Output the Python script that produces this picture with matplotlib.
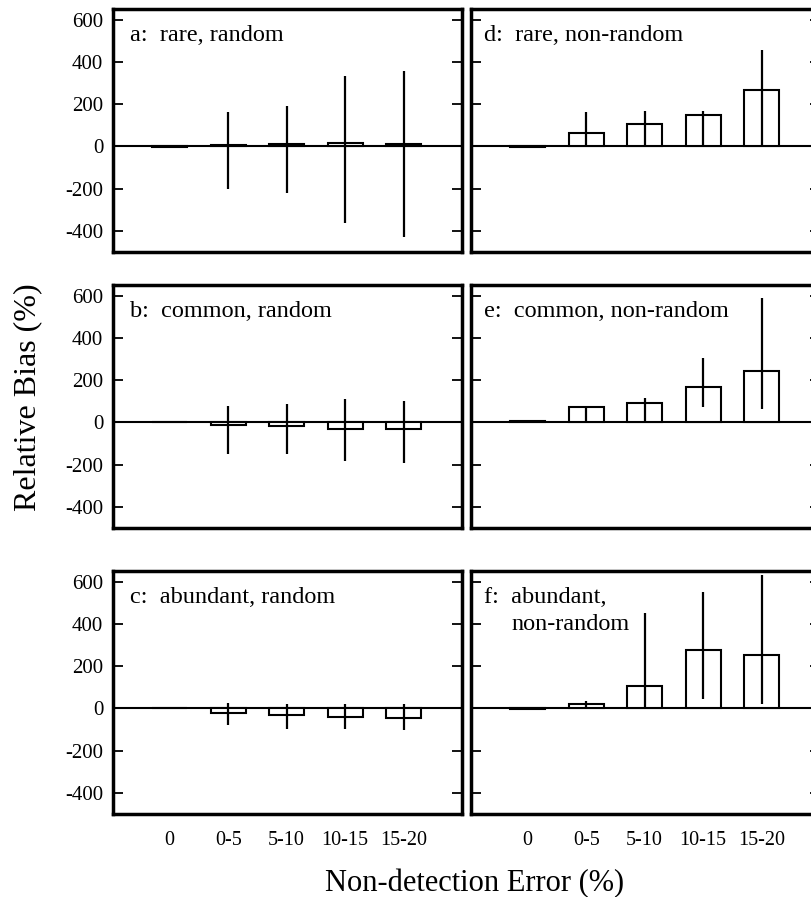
import numpy as np
import matplotlib
matplotlib.use('Agg')
import matplotlib.pyplot as plt

plt.rcParams['font.family'] = ['Liberation Serif', 'DejaVu Serif']
plt.rcParams['axes.unicode_minus'] = False

# === Data ===
categories = ["0", "0-5", "5-10", "10-15", "15-20"]
nan = np.nan

a_mean = [-3, 5, 9, 17, 13]
a_lo = [nan, -200, -219, -365, -429]
a_hi = [nan, 162, 189, 332, 357]

b_mean = [4, -13, -17, -30, -30]
b_lo = [nan, -152, -152, -184, -192]
b_hi = [nan, 78, 86, 111, 102]

c_mean = [1, -21, -33, -41, -48]
c_lo = [nan, -81, -97, -98, -103]
c_hi = [nan, 25, 21, 19, 21]

d_mean = [-2, 63, 106, 146, 267]
d_lo = [nan, 0, 0, 0, 0]
d_hi = [nan, 164, 167, 167, 457]

e_mean = [5, 73, 90, 167, 243]
e_lo = [nan, 0, 0, 71, 63]
e_hi = [nan, 75, 117, 305, 590]

f_mean = [-3, 22, 106, 276, 254]
f_lo = [nan, 0, 0, 43, 19]
f_hi = [nan, 35, 449, 552, 633]

panels = [
    ("a:  rare, random", a_mean, a_lo, a_hi),
    ("b:  common, random", b_mean, b_lo, b_hi),
    ("c:  abundant, random", c_mean, c_lo, c_hi),
    ("d:  rare, non-random", d_mean, d_lo, d_hi),
    ("e:  common, non-random", e_mean, e_lo, e_hi),
    ("f:  abundant,", f_mean, f_lo, f_hi),
]

# === Layout (figure fractions) ===
fig = plt.figure(figsize=(8.11, 8.97), dpi=100)
col_x = [113 / 811, 471 / 811]
width = 349 / 811
row_bottom = [1 - 252 / 897, 1 - 528 / 897, 1 - 814 / 897]
height = 243 / 897

x = np.arange(len(categories))

for i, (label, mean, lo, hi) in enumerate(panels):
    col, row = divmod(i, 3)
    ax = fig.add_axes([col_x[col], row_bottom[row], width, height])

    ax.bar(x, mean, width=0.6, facecolor='white', edgecolor='black',
           linewidth=1.5, zorder=2)
    ax.vlines(x, lo, hi, color='black', linewidth=1.6, zorder=3)
    ax.axhline(0, color='black', linewidth=1.5, zorder=1.5)

    ax.set_xlim(-0.97, 5.0)
    ax.set_ylim(-500, 650)
    ax.set_yticks([-400, -200, 0, 200, 400, 600])
    ax.tick_params(axis='y', direction='in', length=7, width=1.3,
                   left=True, right=True, labelsize=15, pad=7)
    ax.tick_params(axis='x', length=0, labelsize=14.5, pad=12)
    ax.set_xticks(x)
    if row == 2:
        ax.set_xticklabels(categories)
    else:
        ax.set_xticklabels([])
    if col == 1:
        ax.set_yticklabels([])
    for sp in ax.spines.values():
        sp.set_linewidth(2.5)

    tx = 0.05 if col == 0 else 0.036
    ax.text(tx, 0.935, label, transform=ax.transAxes, fontsize=17.5,
            ha='left', va='top')
    if i == 5:
        ax.text(0.117, 0.825, "non-random", transform=ax.transAxes,
                fontsize=17.5, ha='left', va='top')

fig.text(28 / 811, 1 - 397 / 897, 'Relative Bias (%)', rotation=90,
         ha='center', va='center', fontsize=23)
fig.text(475 / 811, 1 - 891 / 897, 'Non-detection Error (%)',
         ha='center', va='baseline', fontsize=22)

fig.savefig('out.png', dpi=100)
